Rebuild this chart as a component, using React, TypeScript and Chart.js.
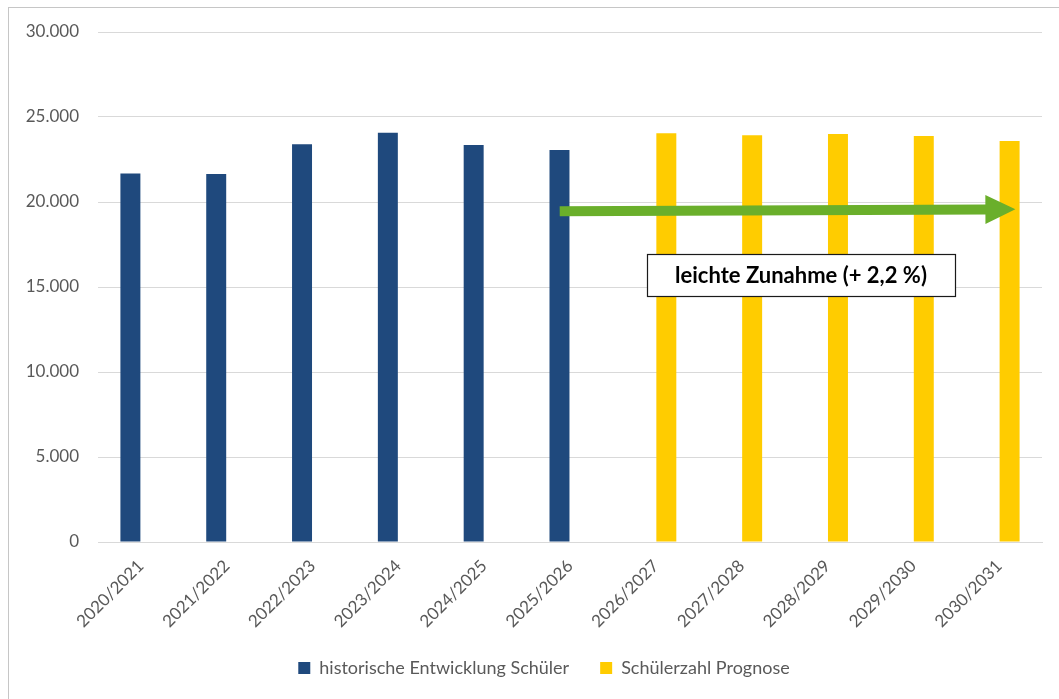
import { useEffect, useRef } from 'react';
import { Chart, registerables } from 'chart.js';

Chart.register(...registerables);

const categories = [
  '2020/2021', '2021/2022', '2022/2023', '2023/2024', '2024/2025', '2025/2026',
  '2026/2027', '2027/2028', '2028/2029', '2029/2030', '2030/2031',
];
const historicLabel = 'historische Entwicklung Schüler';
const forecastLabel = 'Schülerzahl Prognose';
const historicValues = [21670, 21650, 23390, 24080, 23350, 23060, null, null, null, null, null];
const forecastValues = [null, null, null, null, null, null, 24040, 23920, 24000, 23880, 23590];

const yMin = 0;
const yMax = 30000;
const yStep = 5000;

// annotation anchors (category index, value)
const arrowStart = { index: 4.88, value: 19450 };
const arrowEnd = { index: 10.19, value: 19570 };
const noteText = 'leichte Zunahme (+ 2,2 %)';
const noteAnchor = { index: 7.69, value: 15700 };

const FONT = 'Lato, "Open Sans", sans-serif';
const LEGEND_PAD = 31;
const LEGEND_SHIFT = 46;

const fmt = (v: number) => String(Math.round(v)).replace(/\B(?=(\d{3})+(?!\d))/g, '.');

const annotationPlugin = {
  id: 'annot',
  afterLayout(chart: any) {
    if (chart.legend) {
      chart.legend.left = LEGEND_SHIFT;
    }
  },
  beforeDraw(chart: any) {
    const ctx = chart.ctx;
    ctx.save();
    ctx.fillStyle = '#c6c6c6';
    ctx.fillRect(8, 7, 1, chart.height - 7);
    ctx.fillRect(8, 7, chart.width - 8, 1);
    ctx.restore();
  },
  afterDatasetsDraw(chart: any) {
    const { ctx, scales } = chart;
    const xs = scales.x;
    const ys = scales.y;
    const x0 = xs.getPixelForValue(arrowStart.index);
    const y0 = ys.getPixelForValue(arrowStart.value);
    const x1 = xs.getPixelForValue(arrowEnd.index);
    const y1 = ys.getPixelForValue(arrowEnd.value);
    const shaft = 10;
    const headLen = 30;
    const headHalf = 14.5;
    const ang = Math.atan2(y1 - y0, x1 - x0);
    ctx.save();
    ctx.translate(x0, y0);
    ctx.rotate(ang);
    const len = Math.hypot(x1 - x0, y1 - y0);
    ctx.fillStyle = '#6aaf2b';
    ctx.beginPath();
    ctx.moveTo(0, -shaft / 2);
    ctx.lineTo(len - headLen, -shaft / 2);
    ctx.lineTo(len - headLen, -headHalf);
    ctx.lineTo(len, 0);
    ctx.lineTo(len - headLen, headHalf);
    ctx.lineTo(len - headLen, shaft / 2);
    ctx.lineTo(0, shaft / 2);
    ctx.closePath();
    ctx.fill();
    ctx.restore();

    // note box
    const cx = xs.getPixelForValue(noteAnchor.index);
    const cy = ys.getPixelForValue(noteAnchor.value);
    ctx.save();
    ctx.font = `bold 22px ${FONT}`;
    const tw = ctx.measureText(noteText).width;
    const w = Math.round(tw + 56);
    const h = 42;
    const left = Math.round(cx - w / 2);
    const top = Math.round(cy - h / 2);
    ctx.fillStyle = '#ffffff';
    ctx.fillRect(left, top, w, h);
    ctx.strokeStyle = '#1a1a1a';
    ctx.lineWidth = 1.2;
    ctx.strokeRect(left + 0.5, top + 0.5, w, h);
    ctx.fillStyle = '#000000';
    ctx.textAlign = 'center';
    ctx.textBaseline = 'middle';
    ctx.fillText(noteText, left + w / 2, top + h / 2 + 1);
    ctx.restore();
  },
};

export default function App() {
  const ref = useRef<HTMLCanvasElement | null>(null);
  useEffect(() => {
    if (!ref.current) return;
    const chart = new Chart(ref.current, {
      type: 'bar',
      data: {
        labels: categories,
        datasets: [
          {
            label: historicLabel,
            data: historicValues,
            backgroundColor: '#1f497d',
            categoryPercentage: 0.49,
            barPercentage: 0.95,
          },
          {
            label: forecastLabel,
            data: forecastValues,
            backgroundColor: '#ffcc00',
            categoryPercentage: 0.49,
            barPercentage: 0.95,
          },
        ],
      },
      options: {
        animation: false,
        responsive: true,
        maintainAspectRatio: false,
        layout: { padding: { top: 32, right: 17, left: 0, bottom: 12 } },
        plugins: {
          tooltip: { enabled: false },
          legend: {
            position: 'bottom',
            labels: {
              color: '#595959',
              font: { family: FONT, size: 18 },
              boxWidth: 12,
              boxHeight: 12,
              padding: LEGEND_PAD,
            },
          },
        },
        scales: {
          x: {
            afterFit: (s: any) => { s.height = 117 - LEGEND_PAD; },
            grid: { display: false, drawTicks: false },
            border: { color: '#d9d9d9', width: 1 },
            ticks: {
              color: '#595959',
              font: { family: FONT, size: 17 },
              maxRotation: 45,
              minRotation: 45,
              padding: 14,
            },
          },
          y: {
            min: yMin,
            max: yMax,
            afterFit: (s: any) => { s.width = 98; },
            grid: { color: '#d9d9d9', drawTicks: false },
            border: { display: false },
            ticks: {
              stepSize: yStep,
              color: '#595959',
              font: { family: FONT, size: 17 },
              padding: 19,
              callback: (v: any) => fmt(Number(v)),
            },
          },
        },
      },
      plugins: [annotationPlugin],
    });
    return () => chart.destroy();
  }, []);
  return (
    <div style={{ position: 'fixed', left: 0, top: 0, width: 1059, height: 699 }}>
      <canvas ref={ref} />
    </div>
  );
}
